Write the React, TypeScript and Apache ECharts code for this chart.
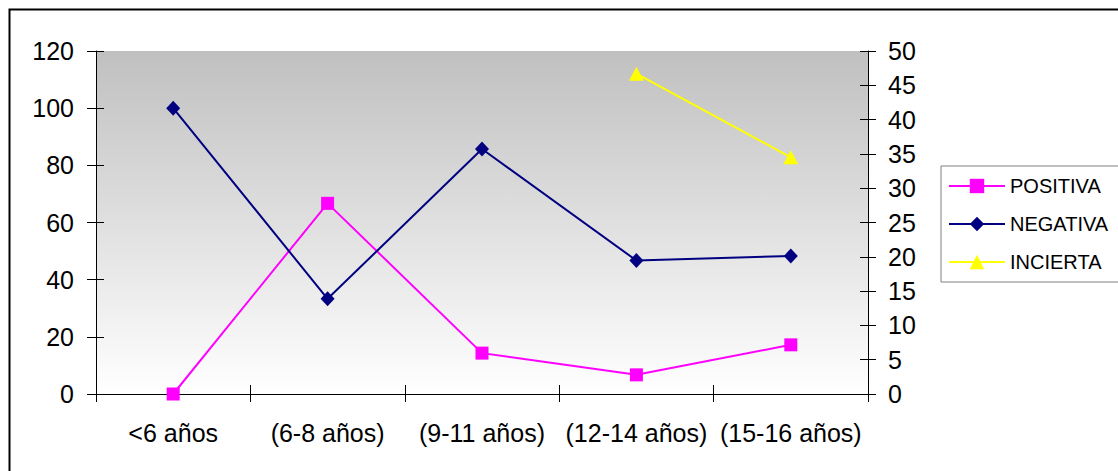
import React, { useEffect, useRef } from "react";
import * as echarts from "echarts";

const categories = ["<6 años", "(6-8 años)", "(9-11 años)", "(12-14 años)", "(15-16 años)"];
const positiva = [0, 66.7, 14.3, 6.7, 17.2];
const negativa = [100, 33.3, 85.7, 46.7, 48.3];
const incierta = [null, null, null, 46.7, 34.5];
const leftTicks = { min: 0, max: 120, interval: 20 };
const rightTicks = { min: 0, max: 50, interval: 5 };

const FONT = "'Liberation Sans', Arial, sans-serif";

export default function App() {
  const ref = useRef<HTMLDivElement>(null);
  useEffect(() => {
    if (!ref.current) return;
    const chart = echarts.init(ref.current, undefined, { renderer: "svg" });
    const axisText = { color: "#000", fontSize: 25, fontFamily: FONT };
    chart.setOption({
      animation: false,
      textStyle: { fontFamily: FONT },
      grid: {
        left: 96,
        right: 250,
        top: 51,
        bottom: 77,
        show: true,
        borderWidth: 0,
        backgroundColor: new echarts.graphic.LinearGradient(0, 0, 0, 1, [
          { offset: 0, color: "#c0c0c0" },
          { offset: 1, color: "#ffffff" },
        ]),
      },
      graphic: [
        {
          type: "rect",
          shape: { x: 9.5, y: 9.5, width: 1300, height: 600 },
          style: { fill: "none", stroke: "#000", lineWidth: 2 },
          silent: true,
        },
      ],
      legend: {
        orient: "vertical",
        left: 941,
        top: 166,
        padding: [10, 30, 10, 7],
        itemGap: 18,
        itemWidth: 56,
        itemHeight: 18,
        borderColor: "#808080",
        borderWidth: 1,
        backgroundColor: "#fff",
        textStyle: { color: "#000", fontSize: 20, fontFamily: FONT, lineHeight: 20 },
        data: ["POSITIVA", "NEGATIVA", "INCIERTA"],
      },
      xAxis: [
        {
          type: "category",
          data: categories,
          boundaryGap: true,
          axisLine: { lineStyle: { color: "#000", width: 1 } },
          axisTick: { show: true, length: 8, lineStyle: { color: "#000" } },
          axisLabel: { ...axisText, margin: 26, interval: 0 },
          splitLine: { show: false },
        },
        {
          type: "category",
          data: categories,
          position: "bottom",
          boundaryGap: true,
          axisLine: { show: false },
          axisTick: { show: true, inside: true, length: 9, lineStyle: { color: "#000" } },
          axisLabel: { show: false },
          splitLine: { show: false },
        },
      ],
      yAxis: [
        {
          type: "value",
          position: "left",
          ...leftTicks,
          axisLine: { show: true, lineStyle: { color: "#000", width: 1 } },
          axisTick: { show: true, length: 9, lineStyle: { color: "#000" } },
          axisLabel: { ...axisText, margin: 22 },
          splitLine: { show: false },
        },
        {
          type: "value",
          position: "right",
          ...rightTicks,
          axisLine: { show: true, lineStyle: { color: "#000", width: 1 } },
          axisTick: { show: true, length: 8, lineStyle: { color: "#000" } },
          axisLabel: { ...axisText, margin: 20 },
          splitLine: { show: false },
        },
        {
          type: "value",
          position: "left",
          ...leftTicks,
          axisLine: { show: false },
          axisTick: { show: true, inside: true, length: 8, lineStyle: { color: "#000" } },
          axisLabel: { show: false },
          splitLine: { show: false },
        },
        {
          type: "value",
          position: "right",
          ...rightTicks,
          axisLine: { show: false },
          axisTick: { show: true, inside: true, length: 8, lineStyle: { color: "#000" } },
          axisLabel: { show: false },
          splitLine: { show: false },
        },
      ],
      series: [
        {
          name: "POSITIVA",
          type: "line",
          data: positiva,
          yAxisIndex: 0,
          symbol: "rect",
          symbolSize: 13,
          showAllSymbol: true,
          lineStyle: { color: "#ff00ff", width: 2 },
          itemStyle: { color: "#ff00ff" },
        },
        {
          name: "NEGATIVA",
          type: "line",
          data: negativa,
          yAxisIndex: 0,
          symbol: "diamond",
          symbolSize: [14, 15],
          showAllSymbol: true,
          lineStyle: { color: "#000080", width: 2 },
          itemStyle: { color: "#000080" },
        },
        {
          name: "INCIERTA",
          type: "line",
          data: incierta,
          yAxisIndex: 1,
          symbol: "triangle",
          symbolSize: [15, 14],
          showAllSymbol: true,
          lineStyle: { color: "#ffff00", width: 2 },
          itemStyle: { color: "#ffff00" },
        },
      ],
    });
    return () => chart.dispose();
  }, []);
  return (
    <div
      ref={ref}
      style={{ position: "absolute", left: 0, top: 0, width: 1118, height: 471, background: "#fff" }}
    />
  );
}
